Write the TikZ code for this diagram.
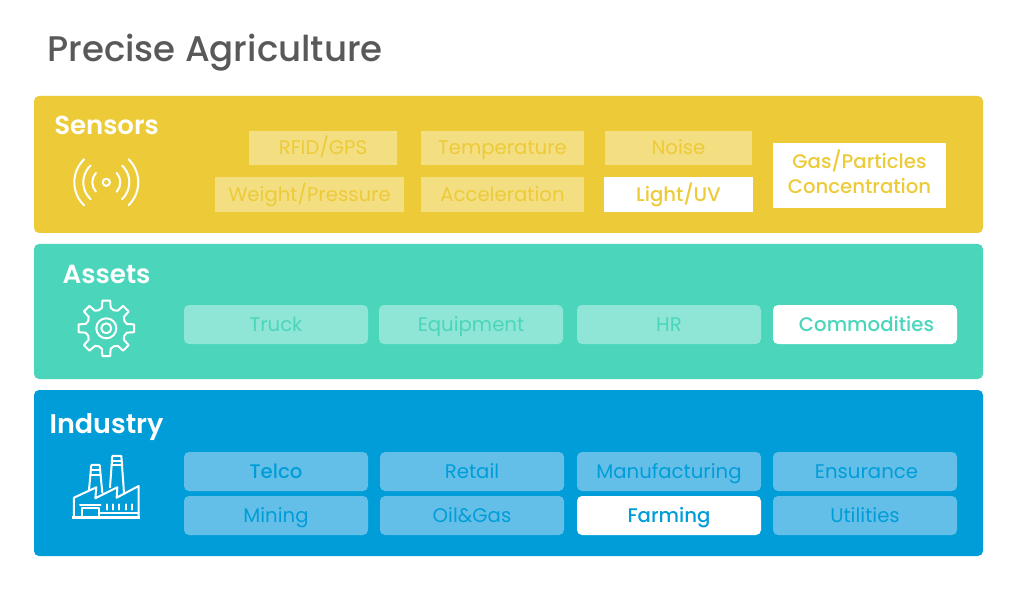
\documentclass[tikz,border=0pt]{standalone}
\usepackage{fontspec}
\setmainfont{Poppins}
\newfontfamily\semi{Poppins SemiBold}
\newfontfamily\med{Poppins Medium}
\normallineskiplimit=-50pt\relax
\lineskiplimit=-50pt\relax
\definecolor{yel}{HTML}{EDCB38}
\definecolor{yelp}{HTML}{F3DE82}
\definecolor{tea}{HTML}{4BD5BB}
\definecolor{teap}{HTML}{8FE6D6}
\definecolor{blu}{HTML}{019DD8}
\definecolor{blup}{HTML}{63BFE8}
\definecolor{ttl}{HTML}{595959}
\tikzset{
 x=1pt,y=-1pt,
 band/.style={rounded corners=5pt,draw=none},
 itemtxt/.style={font=\fontsize{19.7}{25}\selectfont,align=center,inner sep=0pt},
 head/.style={font=\semi\fontsize{#1}{28}\selectfont,text=white,inner sep=0pt,anchor=base},
 icon/.style={draw=white,line width=2pt,line join=round,line cap=round},
}
\newcommand{\st}{\rule[-6pt]{0pt}{26pt}}
% x0,x1,y0,y1,fill,text,label,name,corner
\newcommand{\itm}[9]{%
 \node[itemtxt,fill=#5,text=#6,rounded corners=#9,minimum width=#2pt-#1pt,minimum height=#4pt-#3pt] (#8) at ({(#1+#2)/2},{(#3+#4)/2}) {\st#7};}
\begin{document}
\begin{tikzpicture}
\useasboundingbox[fill=white] (0,0) rectangle (1024,601);
\node[font=\med\fontsize{35.6}{40}\selectfont,text=ttl,anchor=base west,inner sep=0pt] (title) at (47,62) {Precise Agriculture};
\fill[band,yel] (34,96) rectangle (983,233);
\fill[band,tea] (34,244) rectangle (983,379);
\fill[band,blu] (34,390) rectangle (983,556);
\node[head=26] (hs) at (106.5,134.5) {Sensors};
\node[head=26.2] (ha) at (106.5,283.5) {Assets};
\node[head=27] (hi) at (106.5,433) {Industry};
% sensors
\itm{249}{397}{131}{165}{yelp}{yel}{RFID/GPS}{s1}{0pt}
\itm{421}{584}{131}{165}{yelp}{yel}{Temperature}{s2}{0pt}
\itm{605}{752}{131}{165}{yelp}{yel}{Noise}{s3}{0pt}
\itm{215}{404}{177}{212}{yelp}{yel}{Weight/Pressure}{s4}{0pt}
\itm{421}{584}{177}{212}{yelp}{yel}{Acceleration}{s5}{0pt}
\itm{604}{753}{177}{212}{white}{yel}{\med Light/UV}{s6}{0pt}
\itm{773}{946}{143}{208}{white}{yel}{\med Gas/Particles\\\rule[-9pt]{0pt}{1pt}\med Concentration}{s7}{0pt}
% assets
\itm{184}{368}{305}{344}{teap}{tea}{Truck}{a1}{5pt}
\itm{379}{563}{305}{344}{teap}{tea}{Equipment}{a2}{5pt}
\itm{577}{761}{305}{344}{teap}{tea}{HR}{a3}{5pt}
\itm{773}{957}{305}{344}{white}{tea}{\hspace*{3pt}\med Commodities}{a4}{5pt}
% industry
\itm{184}{368}{452}{491}{blup}{blu}{\med Telco}{i1}{5pt}
\itm{380}{564}{452}{491}{blup}{blu}{Retail}{i2}{5pt}
\itm{577}{761}{452}{491}{blup}{blu}{Manufacturing}{i3}{5pt}
\itm{773}{957}{452}{491}{blup}{blu}{\hspace*{3pt}Ensurance}{i4}{5pt}
\itm{184}{368}{496}{535}{blup}{blu}{Mining}{i5}{5pt}
\itm{380}{564}{496}{535}{blup}{blu}{Oil\&Gas}{i6}{5pt}
\itm{577}{761}{496}{535}{white}{blu}{\med Farming}{i7}{5pt}
\itm{773}{957}{496}{535}{blup}{blu}{Utilities}{i8}{5pt}
% sensor icon
\begin{scope}[shift={(106.3,182.3)}]
\draw[icon] (0,0) circle (3.6);
\foreach \r/\a in {14/42,23/47,32/46}{
 \draw[icon] (180-\a:\r) arc[start angle=180-\a,end angle=180+\a,radius=\r];
 \draw[icon] (-\a:\r) arc[start angle=-\a,end angle=\a,radius=\r];
}
\end{scope}
% gear icon
\begin{scope}[shift={(106.3,328.3)}]
\draw[icon] (0,0) circle (10);
\draw[icon] (0,0) circle (5);
\draw[icon] (-12:21) \foreach \a in {0,45,...,315}{
 -- (\a-8:28) -- (\a+8:28) -- (\a+12:21) -- (\a+22.5:19.5) -- (\a+33:21)} -- cycle;
\end{scope}
% factory icon
\begin{scope}[shift={(34,400)},x=0.3333pt,y=-0.3333pt]
\draw[icon,line width=2.6pt,line cap=butt] (115,352) -- (319,352);
\draw[icon] (120,350) -- (120,293) -- (187,262) -- (184,295) -- (250,262) -- (248,293) -- (314,258) -- (314,350);
\draw[icon] (165,270) -- (172,195) -- (197,195) -- (205,278);
\draw[icon] (228,262) -- (235,168) -- (262,168) -- (270,278);
\draw[icon] (170,210) -- (199,210) (169,225) -- (200,225);
\draw[icon] (233,182) -- (264,182) (232,196) -- (265,196);
\draw[icon] (143,350) -- (143,325) -- (195,325) -- (195,350);
\draw[icon] (138,314) -- (200,314);
\draw[icon] (200,338) -- (314,338);
\foreach \x in {218,236,255,275,295}{\draw[icon] (\x,313) -- (\x,329);}
\end{scope}
\end{tikzpicture}
\end{document}
